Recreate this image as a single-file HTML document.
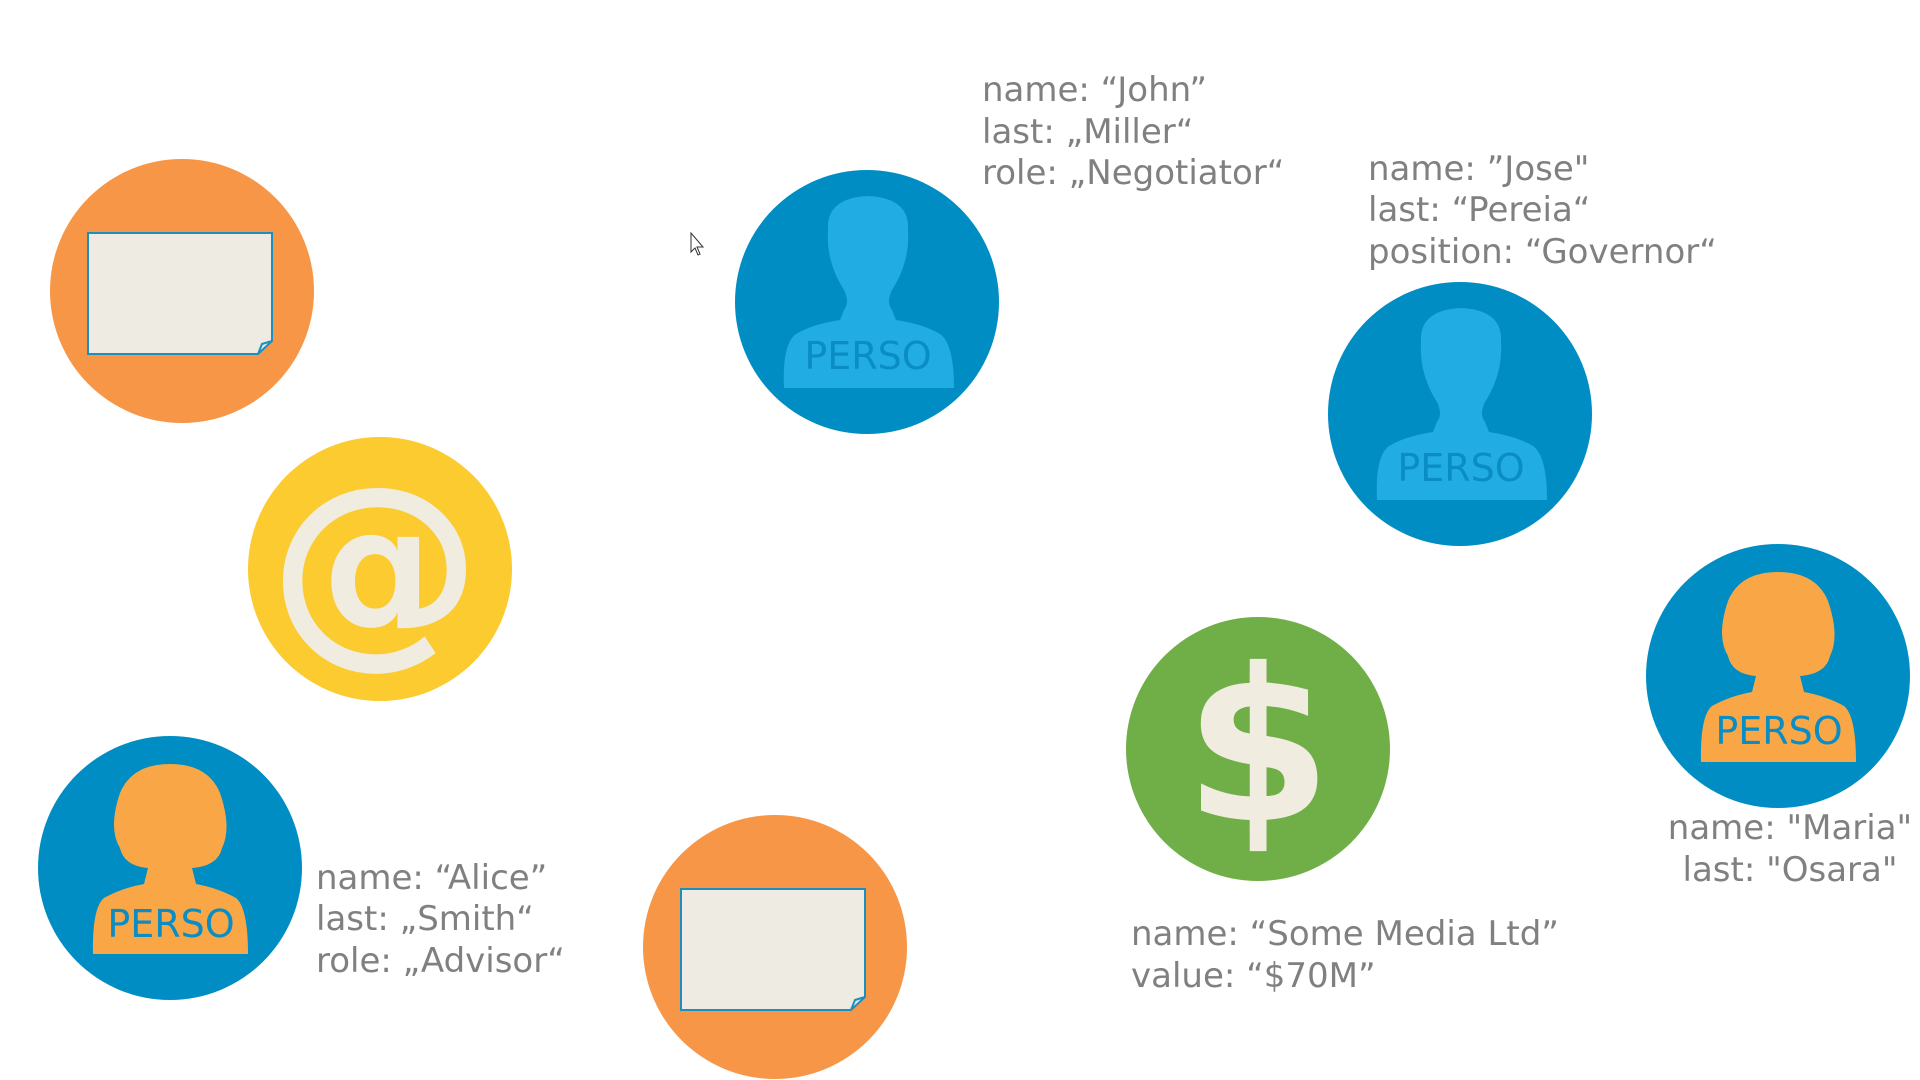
<!DOCTYPE html>
<html><head><meta charset="utf-8"><style>
html,body{margin:0;padding:0;background:#fff;width:1920px;height:1080px;overflow:hidden}
svg text{font-family:"DejaVu Sans","Liberation Sans",sans-serif}
</style></head><body>
<svg width="1920" height="1080" viewBox="0 0 1920 1080" xmlns="http://www.w3.org/2000/svg">
<defs>
<path id="man" d="M-84 86 L86 86 Q86 42 72 32 Q55 22 28 18 L24 8 Q18 0 24 -12 Q42 -40 40 -72 Q42 -104 0 -106 Q-42 -104 -40 -72 Q-42 -40 -24 -12 Q-18 0 -24 8 L-28 18 Q-55 22 -72 32 Q-86 42 -84 86 Z"/>
<path id="woman" d="M-77 86 L78 86 Q78 40 66 30 Q48 20 26 16 L22 0 Q48 -2 52 -20 Q62 -40 50 -75 Q38 -104 0 -104 Q-38 -104 -50 -75 Q-62 -40 -50 -20 Q-46 -2 -22 0 L-26 16 Q-48 20 -66 30 Q-78 40 -77 86 Z"/>
<g id="doc">
<path d="M-72 -62 L112 -62 L112 46 L98 59 L-72 59 Z" fill="#EEECE2" stroke="#1a8fc0" stroke-width="2"/>
<path d="M112 46 L102 49 L98 59" fill="none" stroke="#1a8fc0" stroke-width="2"/>
</g>
</defs>
<circle cx="182" cy="291" r="132" fill="#F79646"/>
<use href="#doc" x="160" y="295"/>
<circle cx="380" cy="569" r="132" fill="#FBCB2F"/>
<text x="375" y="637" font-size="212" font-weight="bold" fill="#F0ECDF" text-anchor="middle">@</text>
<circle cx="170" cy="868" r="132" fill="#008DC3"/>
<use href="#woman" x="170" y="868" fill="#F9A746"/>
<text x="171" y="937" font-size="38" fill="#0a8dc4" text-anchor="middle">PERSO</text>
<circle cx="775" cy="947" r="132" fill="#F79646"/>
<use href="#doc" x="753" y="951"/>
<circle cx="867" cy="302" r="132" fill="#008DC3"/>
<use href="#man" x="868" y="302" fill="#21ADE3"/>
<text x="868" y="369" font-size="38" fill="#0a8dc4" text-anchor="middle">PERSO</text>
<circle cx="1460" cy="414" r="132" fill="#008DC3"/>
<use href="#man" x="1461" y="414" fill="#21ADE3"/>
<text x="1461" y="481" font-size="38" fill="#0a8dc4" text-anchor="middle">PERSO</text>
<circle cx="1258" cy="749" r="132" fill="#70AF47"/>
<text x="1258" y="820" font-size="212" font-weight="bold" fill="#F0ECDF" text-anchor="middle">$</text>
<circle cx="1778" cy="676" r="132" fill="#008DC3"/>
<use href="#woman" x="1778" y="676" fill="#F9A746"/>
<text x="1779" y="744" font-size="38" fill="#0a8dc4" text-anchor="middle">PERSO</text>
<path d="M691 233 L691 252 L695 248 L698 255 L700 254 L697 247 L703 247 Z" fill="#fff" stroke="#333" stroke-width="1"/>
<g font-size="34" fill="#808080">
<text x="982" y="101">name: “John”</text>
<text x="982" y="143">last: „Miller“</text>
<text x="982" y="184">role: „Negotiator“</text>
<text x="1368" y="180">name: ”Jose"</text>
<text x="1368" y="221">last: “Pereia“</text>
<text x="1368" y="263">position: “Governor“</text>
<text x="316" y="889">name: “Alice”</text>
<text x="316" y="930">last: „Smith“</text>
<text x="316" y="972">role: „Advisor“</text>
<text x="1131" y="945">name: “Some Media Ltd”</text>
<text x="1131" y="987">value: “$70M”</text>
<text x="1790" y="839" text-anchor="middle">name: "Maria"</text>
<text x="1790" y="881" text-anchor="middle">last: "Osara"</text>
</g>
</svg>
</body></html>
